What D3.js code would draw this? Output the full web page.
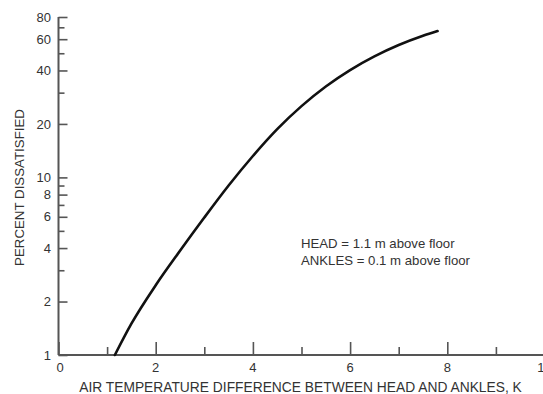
<!DOCTYPE html>
<html>
<head>
<meta charset="utf-8">
<script src="https://cdn.jsdelivr.net/npm/d3@7"></script>
<style>
  html, body { margin: 0; padding: 0; background: #fff; }
  svg { display: block; font-family: "Liberation Sans", Arial, sans-serif; }
</style>
</head>
<body>
<svg id="chart" width="543" height="394"></svg>
<script>
// Temperature difference head–ankles (K) and percent dissatisfied
const tempDiff = [1.16, 1.5, 2, 2.5, 3, 3.5, 4, 4.5, 5, 5.5, 6, 6.5, 7, 7.5, 7.8];
const dissatisfied = [1, 1.5, 2.47, 3.86, 5.94, 9.0, 13.2, 18.7, 25.2, 32.5, 40.2, 48.0, 55.6, 62.7, 66.7];

const xMajorTicks = [0, 2, 4, 6, 8, 10];
const xMinorTicks = [1, 3, 5, 7, 9];
const yMajorTicks = [1, 2, 4, 6, 8, 10, 20, 40, 60, 80];
const yMinorTicks = [3, 5, 7, 9, 30, 50, 70];

const noteLines = ["HEAD = 1.1 m above floor", "ANKLES = 0.1 m above floor"];
const xTitle = "AIR TEMPERATURE DIFFERENCE BETWEEN HEAD AND ANKLES, K";
const yTitle = "PERCENT DISSATISFIED";

const svg = d3.select("#chart");
const plot = { left: 58.5, right: 544.5, top: 17, bottom: 355 };

const x = d3.scaleLinear().domain([0, 10]).range([plot.left, plot.right]);
const y = d3.scaleLog().domain([1, 80]).range([plot.bottom, plot.top]);

const axisColor = "#555";
const textColor = "#333";

// Y axis: ticks pointing inward (to the right)
const yAxis = svg.append("g").attr("transform", `translate(${plot.left},0)`);
yAxis.call(d3.axisRight(y).tickValues(yMajorTicks).tickSize(9).tickFormat(""))
  .call(g => g.select(".domain").remove());
yAxis.append("g").call(d3.axisRight(y).tickValues(yMinorTicks).tickSize(6).tickFormat(""))
  .call(g => g.select(".domain").remove());
yAxis.selectAll("line").attr("stroke", axisColor).attr("stroke-width", 1.6);
yAxis.selectAll(".ylab").data(yMajorTicks).enter().append("text")
  .attr("class", "ylab")
  .attr("x", -7.5).attr("y", d => y(d)).attr("dy", "0.36em")
  .attr("text-anchor", "end").attr("font-size", 13).attr("fill", textColor)
  .text(d => d);

// X axis: ticks pointing upward
const xAxis = svg.append("g").attr("transform", `translate(0,${plot.bottom})`);
xAxis.call(d3.axisTop(x).tickValues(xMajorTicks).tickSize(13).tickFormat(""))
  .call(g => g.select(".domain").remove());
xAxis.append("g").call(d3.axisTop(x).tickValues(xMinorTicks).tickSize(8).tickFormat(""))
  .call(g => g.select(".domain").remove());
xAxis.selectAll("line").attr("stroke", axisColor).attr("stroke-width", 1.6);
xAxis.selectAll(".xlab").data(xMajorTicks).enter().append("text")
  .attr("class", "xlab")
  .attr("x", d => x(d) + (d === 0 ? 1.5 : 0)).attr("y", 17)
  .attr("text-anchor", "middle").attr("font-size", 13).attr("fill", textColor)
  .text(d => d);

// Axis lines
svg.append("line").attr("x1", plot.left).attr("x2", plot.left).attr("y1", plot.top).attr("y2", plot.bottom)
  .attr("stroke", axisColor).attr("stroke-width", 2);
svg.append("line").attr("x1", plot.left).attr("x2", plot.right).attr("y1", plot.bottom).attr("y2", plot.bottom)
  .attr("stroke", axisColor).attr("stroke-width", 2);

// Curve
const line = d3.line()
  .x((d, i) => x(tempDiff[i]))
  .y(d => y(d))
  .curve(d3.curveMonotoneX);
svg.append("path").datum(dissatisfied)
  .attr("d", line).attr("fill", "none")
  .attr("stroke", "#111").attr("stroke-width", 2.6).attr("stroke-linecap", "round");

// Annotation
svg.append("g").selectAll("text").data(noteLines).enter().append("text")
  .attr("x", 301).attr("y", (d, i) => 248 + i * 17)
  .attr("font-size", 13.2).attr("fill", textColor)
  .text(d => d);

// Titles
svg.append("text").attr("x", 300.5).attr("y", 392)
  .attr("text-anchor", "middle").attr("font-size", 13.8).attr("fill", textColor)
  .text(xTitle);
svg.append("text")
  .attr("transform", `translate(24,187.5) rotate(-90)`)
  .attr("text-anchor", "middle").attr("font-size", 13.3).attr("fill", textColor)
  .text(yTitle);
</script>
</body>
</html>
